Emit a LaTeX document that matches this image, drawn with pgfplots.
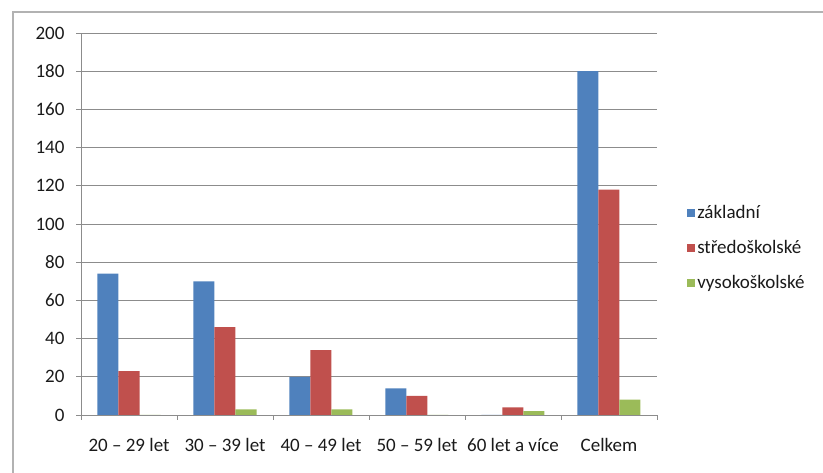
\documentclass[border=0pt]{standalone}
\usepackage{pgfplots}
\pgfplotsset{compat=1.18}
\usepackage{fontspec}
\setmainfont{Carlito}
\definecolor{cblue}{HTML}{4F81BD}
\definecolor{cred}{HTML}{C0504D}
\definecolor{cgreen}{HTML}{9BBB59}
\definecolor{gridc}{HTML}{8C8C8C}
\definecolor{txt}{HTML}{1A1A1A}
\begin{document}
\begin{tikzpicture}[x=1pt,y=1pt]
\useasboundingbox (0,0) rectangle (823,473);
\draw[color=gray!60, line width=1.2pt] (13,0) -- (13,461) -- (823,461);
\begin{axis}[
  at={(81pt,58pt)}, anchor=south west,
  scale only axis, width=576pt, height=382pt,
  ybar=0pt, bar width=21pt,
  xmin=-0.5, xmax=5.5, ymin=0, ymax=200,
  ytick distance=20,
  xtick={-0.5,0.5,...,5.5}, xticklabels={},
  extra x ticks={0,1,2,3,4,5},
  extra x tick labels={20 -- 29 let, 30 -- 39 let, 40 -- 49 let, 50 -- 59 let, 60 let a více, Celkem},
  extra x tick style={major tick length=0pt, grid=none, xticklabel style={yshift=-20pt}},
  tick align=outside, major tick length=5pt,
  tick style={gridc, line width=0.8pt},
  axis x line*=bottom, axis y line*=left,
  axis line style={gridc, line width=0.8pt},
  ymajorgrids, grid style={gridc, line width=0.8pt},
  ticklabel style={font=\fontsize{19}{22}\selectfont, text=txt},
  yticklabel style={xshift=-8pt},
  /pgf/number format/assume math mode=true,
  legend style={at={(1.047,0.56)}, anchor=north west, draw=none, fill=none,
    font=\fontsize{19}{22}\selectfont, text=txt, row sep=16.5pt,
    /tikz/every even column/.append style={column sep=0pt}},
  legend cell align=left,
  legend image code/.code={\fill[#1] (0pt,-4pt) rectangle (8pt,4pt);},
]
\addplot[fill=cblue, draw=none] coordinates {(0,74) (1,70) (2,20) (3,14) (4,0) (5,180)};
\addplot[fill=cred, draw=none] coordinates {(0,23) (1,46) (2,34) (3,10) (4,4) (5,118)};
\addplot[fill=cgreen, draw=none] coordinates {(0,0) (1,3) (2,3) (3,0) (4,2) (5,8)};
\legend{základní, středoškolské, vysokoškolské}
\end{axis}
\end{tikzpicture}
\end{document}
